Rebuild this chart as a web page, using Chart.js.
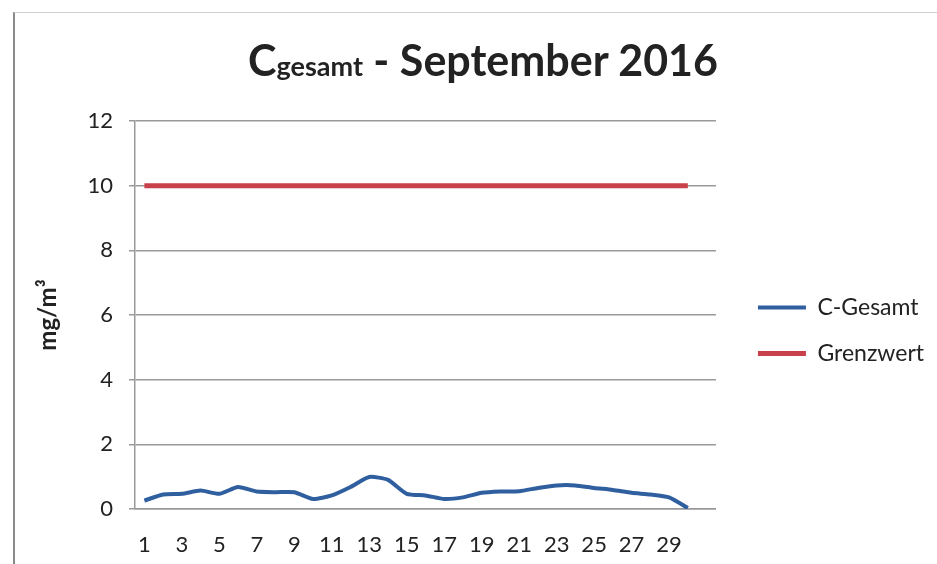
<!DOCTYPE html>
<html>
<head>
<meta charset="utf-8">
<script src="https://cdn.jsdelivr.net/npm/chart.js@4"></script>
<style>
  body { margin: 0; background: #fff; }
  #wrap { position: relative; width: 937px; height: 564px; overflow: hidden; }
  #frame { position: absolute; left: 13px; top: 12px; width: 940px; height: 560px;
           border-left: 2px solid #8a8a8a; border-top: 1px solid #cfcfcf; }
  #title { position: absolute; left: 248px; top: 34px; font-family: Lato, sans-serif;
           font-weight: bold; color: #222; white-space: nowrap; font-size: 43px; }
  #title .sub { font-size: 27px; }
  canvas { position: absolute; left: 0; top: 0; }
</style>
</head>
<body>
<div id="wrap">
  <div id="frame"></div>
  <canvas id="chart" width="937" height="564"></canvas>
  <div id="title">C<span class="sub">gesamt</span> - September 2016</div>
</div>
<script>
// Tage im September 2016 (letzte Kategorie leer)
const days = [1, 2, 3, 4, 5, 6, 7, 8, 9, 10, 11, 12, 13, 14, 15,
              16, 17, 18, 19, 20, 21, 22, 23, 24, 25, 26, 27, 28, 29, 30, ''];
// C-Gesamt in mg/m3
const cGesamt = [0.26, 0.45, 0.47, 0.57, 0.47, 0.68, 0.54, 0.52, 0.52, 0.31,
                 0.42, 0.68, 0.99, 0.9, 0.47, 0.42, 0.31, 0.36, 0.5, 0.54,
                 0.55, 0.65, 0.73, 0.73, 0.65, 0.59, 0.5, 0.45, 0.36, 0.03];
// Grenzwert
const grenzwert = [10, 10, 10, 10, 10, 10, 10, 10, 10, 10, 10, 10, 10, 10, 10,
                   10, 10, 10, 10, 10, 10, 10, 10, 10, 10, 10, 10, 10, 10, 10];
const yTicks = [0, 2, 4, 6, 8, 10, 12];

const ctx = document.getElementById('chart').getContext('2d');
Chart.defaults.font.family = 'Lato, sans-serif';
Chart.defaults.color = '#222';

// leere Achse, nur als Abstandhalter
const spacer = (axis, position, size) => ({
    type: 'linear',
    axis: axis,
    position: position,
    grid: { display: false, drawTicks: false },
    border: { display: false },
    ticks: { display: false },
    afterFit: function (s) {
        if (axis === 'x') s.height = size; else s.width = size;
    }
});

new Chart(ctx, {
    type: 'line',
    data: {
        labels: days,
        datasets: [{
            label: 'C-Gesamt',
            data: cGesamt,
            borderColor: '#2f5f9f',
            backgroundColor: '#2f5f9f',
            borderWidth: 4,
            pointRadius: 0,
            tension: 0.2
        }, {
            label: 'Grenzwert',
            data: grenzwert,
            borderColor: '#c8414b',
            backgroundColor: '#c8414b',
            borderWidth: 5,
            pointRadius: 0
        }]
    },
    options: {
        responsive: false,
        animation: false,
        layout: { padding: { top: 97, left: 0, right: 3, bottom: 0 } },
        plugins: {
            title: { display: false },
            tooltip: { enabled: false },
            legend: {
                position: 'right',
                maxWidth: 400,
                labels: {
                    usePointStyle: true,
                    pointStyle: 'line',
                    pointStyleWidth: 48,
                    boxHeight: 23,
                    padding: 23,
                    font: { size: 23 },
                    color: '#222'
                }
            }
        },
        scales: {
            x: {
                offset: true,
                grid: { display: false, drawTicks: false },
                border: { display: true, color: '#999', width: 1.5 },
                ticks: {
                    autoSkip: false,
                    maxRotation: 0,
                    padding: 23,
                    font: { size: 22 },
                    callback: function (v, i) { return i % 2 === 0 ? days[i] : ''; }
                },
                afterFit: function (s) { s.height = 55; }
            },
            y: {
                min: 0,
                max: 12,
                afterBuildTicks: function (s) { s.ticks = yTicks.map(v => ({ value: v })); },
                grid: { color: '#999', lineWidth: 1.5, tickLength: 6 },
                border: { color: '#999', width: 1.5 },
                ticks: { padding: 16, font: { size: 22 } },
                title: {
                    display: true,
                    text: 'mg/m³',
                    font: { size: 24, weight: 'bold' },
                    padding: { top: 34, bottom: 0 }
                },
                afterFit: function (s) { s.width = 135; }
            },
            padTop: spacer('x', 'top', 24),
            padRight: spacer('y', 'right', 19)
        }
    }
});
</script>
</body>
</html>
